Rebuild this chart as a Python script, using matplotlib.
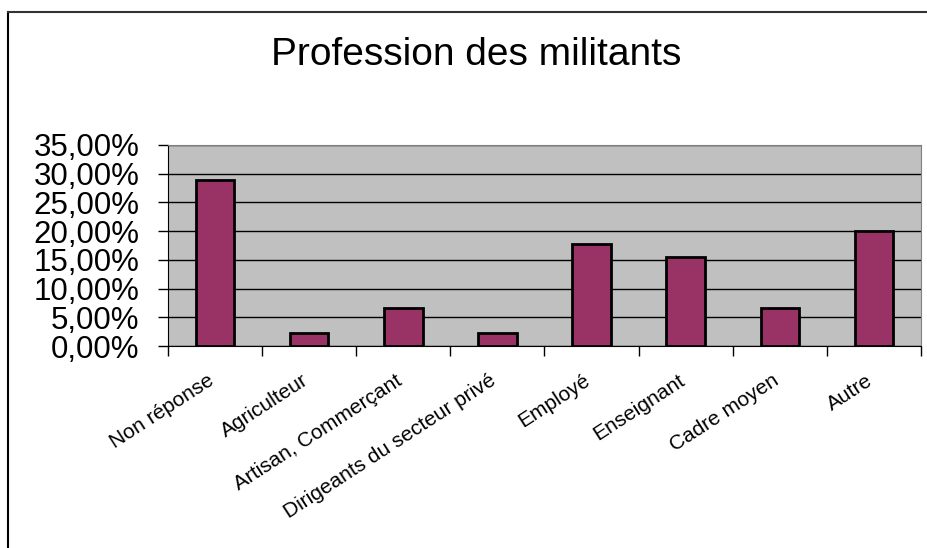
import numpy as np
import matplotlib.pyplot as plt
from matplotlib.lines import Line2D
from matplotlib.ticker import FuncFormatter
from matplotlib.transforms import ScaledTranslation

plt.rcParams['font.family'] = ['Liberation Sans', 'DejaVu Sans']

# Profession des militants (parts en %)
categories = ['Non réponse', 'Agriculteur', 'Artisan, Commerçant',
              'Dirigeants du secteur privé', 'Employé', 'Enseignant',
              'Cadre moyen', 'Autre']
shares = [28.89, 2.22, 6.67, 2.22, 17.78, 15.56, 6.67, 20.00]

fig = plt.figure(figsize=(9.28, 5.48), dpi=100)
ax = fig.add_axes([168/928, 1 - 346/548, (921 - 168)/928, (346 - 145)/548])

x = np.arange(len(categories))
ax.bar(x, shares, width=0.41, color='#993366', edgecolor='black', linewidth=2, zorder=3)

ax.set_facecolor('#C0C0C0')
ax.set_xlim(-0.5, len(categories) - 0.5)
ax.set_ylim(0, 35)
ax.set_yticks(np.arange(0, 36, 5))
ax.yaxis.set_major_formatter(FuncFormatter(lambda v, p: f'{v:.2f}%'.replace('.', ',')))
ax.grid(axis='y', color='black', linewidth=1, zorder=1)

# ticks between categories, labels under bars
ax.set_xticks(np.arange(-0.5, len(categories), 1))
ax.set_xticklabels([])
ax.set_xticks(x, minor=True)
ax.set_xticklabels(categories, minor=True, rotation=33, ha='right',
                   rotation_mode='anchor', fontsize=15)
ax.tick_params(axis='x', which='minor', length=0, pad=18)
ax.tick_params(axis='x', which='major', length=7, width=1, color='black')
ax.tick_params(axis='y', length=7.2, width=1, labelsize=22.5, pad=13.5)
shift = ScaledTranslation(-8/100, 0, fig.dpi_scale_trans)
for lab in ax.get_xticklabels(minor=True):
    lab.set_transform(lab.get_transform() + shift)

for s in ['top', 'right']:
    ax.spines[s].set_color('#808080')
for s in ['left', 'bottom']:
    ax.spines[s].set_color('black')

fig.text(476/928, 1 - 55/548, 'Profession des militants', ha='center', va='center', fontsize=28)

# chart area border
fig.add_artist(Line2D([8/928, 8/928], [0, 1 - 12/548], color='black', linewidth=1.5, transform=fig.transFigure))
fig.add_artist(Line2D([8/928, 1], [1 - 12/548, 1 - 12/548], color='#333333', linewidth=1.5, transform=fig.transFigure))

fig.savefig('out.png', dpi=100)
